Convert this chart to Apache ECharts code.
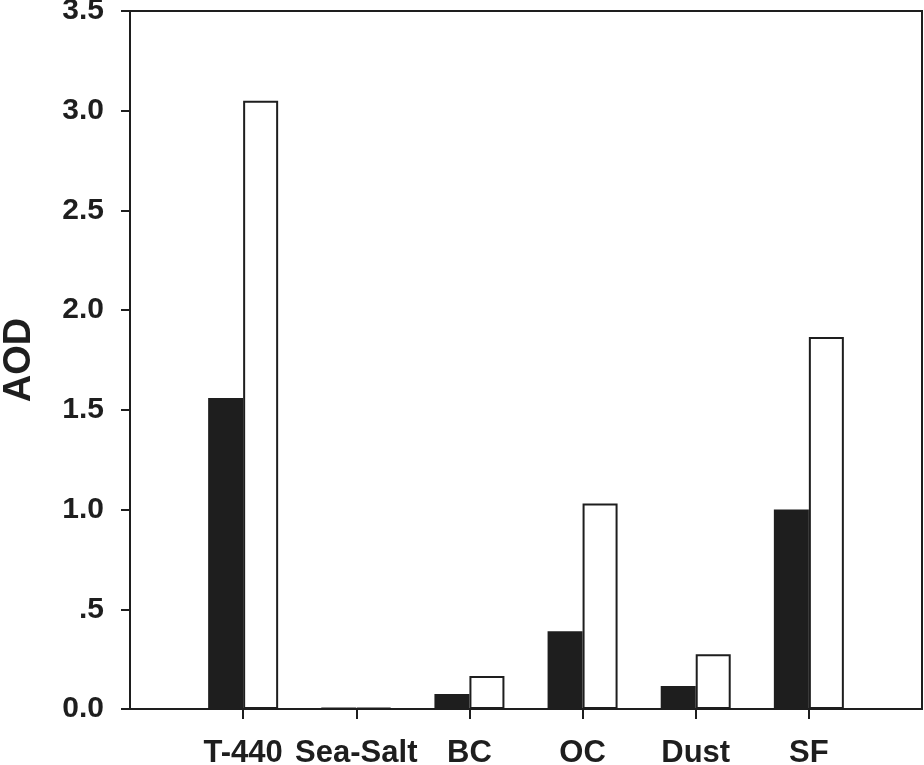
<!DOCTYPE html>
<html>
<head>
<meta charset="utf-8">
<script src="https://cdn.jsdelivr.net/npm/echarts@6/dist/echarts.min.js"></script>
<style>html,body{margin:0;padding:0;background:#fff}#c{width:924px;height:765px}</style>
</head>
<body>
<div id="c"></div>
<script>
var categories = ['T-440', 'Sea-Salt', 'BC', 'OC', 'Dust', 'SF'];
var blackValues = [1.56, 0.008, 0.075, 0.39, 0.115, 1.0];
var whiteValues = [3.05, 0.006, 0.165, 1.03, 0.275, 1.865];
var yTickLabels = ['0.0', '.5', '1.0', '1.5', '2.0', '2.5', '3.0', '3.5'];

var axisCats = [''].concat(categories).concat(['']);
var blackData = [null].concat(blackValues).concat([null]);
var whiteData = [null].concat(whiteValues).concat([null]);
var ink = '#1e1e1e';
var font = 'Liberation Sans, Arial, sans-serif';

var chart = echarts.init(document.getElementById('c'), null, {renderer: 'canvas'});
chart.setOption({
  animation: false,
  backgroundColor: '#fff',
  grid: {left: 130, right: 2, top: 11, bottom: 56, show: true, borderColor: ink, borderWidth: 2,
    containLabel: false, outerBoundsMode: 'none'},
  xAxis: {
    type: 'category',
    data: axisCats,
    boundaryGap: false,
    axisLine: {lineStyle: {color: ink, width: 2}},
    axisTick: {show: true, length: 10, lineStyle: {color: ink, width: 2},
      interval: function (i) { return i > 0 && i < axisCats.length - 1; }},
    axisLabel: {interval: 0, margin: 29, color: ink, fontSize: 31, fontWeight: 'bold', fontFamily: font},
    splitLine: {show: false}
  },
  yAxis: {
    type: 'value',
    min: 0, max: 3.5, interval: 0.5,
    name: 'AOD',
    nameLocation: 'middle',
    nameGap: 91,
    nameTextStyle: {color: ink, fontSize: 38, fontWeight: 'bold', fontFamily: font},
    axisLine: {show: true, lineStyle: {color: ink, width: 2}},
    axisTick: {show: true, length: 9, lineStyle: {color: ink, width: 2}},
    axisLabel: {margin: 26, color: ink, fontSize: 30, fontWeight: 'bold', fontFamily: font,
      formatter: function (v) { return yTickLabels[Math.round(v / 0.5)]; }},
    splitLine: {show: false}
  },
  series: [
    {type: 'bar', data: blackData, barWidth: 35, barGap: '0%',
      itemStyle: {color: ink, borderColor: ink, borderWidth: 0}},
    {type: 'bar', data: whiteData, barWidth: 35, barGap: '0%',
      itemStyle: {color: '#fff', borderColor: ink, borderWidth: 2}}
  ]
});
</script>
</body>
</html>
